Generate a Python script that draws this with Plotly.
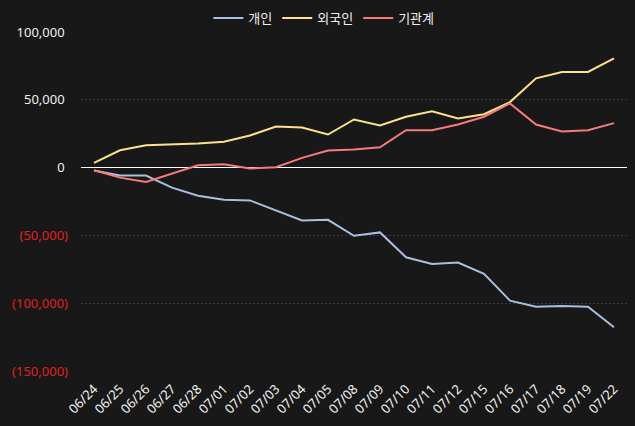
import plotly.graph_objects as go

dates = ["06/24", "06/25", "06/26", "06/27", "06/28", "07/01", "07/02", "07/03", "07/04", "07/05",
         "07/08", "07/09", "07/10", "07/11", "07/12", "07/15", "07/16", "07/17", "07/18", "07/19", "07/22"]
individual = [-2200, -5900, -5900, -14800, -20700, -23700, -24200, -31600, -39000, -38500,
              -50300, -47800, -66100, -71000, -70000, -78400, -98100, -102600, -102000, -102600, -117800]
foreign = [3500, 12800, 16500, 17200, 17700, 19000, 23700, 30300, 29600, 24400,
           35500, 31100, 37500, 41600, 36200, 39400, 48300, 65800, 70500, 70500, 80600]
institution = [-2000, -7400, -10600, -4400, 1700, 2400, -700, 300, 7200, 12600,
               13300, 15000, 27600, 27600, 31800, 37500, 47300, 31800, 26600, 27600, 32800]

series_names = ["개인", "외국인", "기관계"]
series_colors = ["#a9bfe0", "#fde28a", "#f77b7b"]

y_tickvals = [100000, 50000, 0, -50000, -100000, -150000]


def fmt(v):
    if v < 0:
        return "<span style='color:#e0201f'>(" + f"{-v:,}" + ")</span>"
    return f"{v:,}" + "\u00a0"


fig = go.Figure()
for name, vals, col in zip(series_names, [individual, foreign, institution], series_colors):
    fig.add_trace(go.Scatter(x=dates, y=vals, name=name, mode="lines",
                             line=dict(color=col, width=2)))

font_family = "Noto Sans, Noto Sans CJK KR, sans-serif"
fig.update_layout(
    width=635, height=426,
    paper_bgcolor="#181818", plot_bgcolor="#181818",
    margin=dict(l=81, r=8, t=32, b=55, autoexpand=False),
    font=dict(family=font_family, color="#f0f0f0", size=13),
    legend=dict(orientation="h", xref="container", x=0.51, xanchor="center",
                y=1.041, yanchor="middle",
                font=dict(size=13, color="#f0f0f0", family="Noto Sans CJK KR, sans-serif"),
                bgcolor="rgba(0,0,0,0)", itemwidth=30, tracegroupgap=0),
    showlegend=True,
)
fig.update_xaxes(type="category", tickangle=-45, tickfont=dict(size=13, color="#f0f0f0"),
                 showgrid=False, showline=False, zeroline=False, automargin=False,
                 ticks="", ticklabelstandoff=7, range=[-0.5, len(dates) - 0.5])
fig.update_yaxes(range=[-150000, 100000], tickvals=y_tickvals,
                 ticktext=[fmt(v) for v in y_tickvals],
                 tickfont=dict(size=13),
                 showgrid=True, gridcolor="#3a3a3a", griddash="2px,2px", gridwidth=1,
                 zeroline=True, zerolinecolor="#ffffff", zerolinewidth=1,
                 showline=False, automargin=False, ticklabelstandoff=12)

fig.write_html("out.html")
